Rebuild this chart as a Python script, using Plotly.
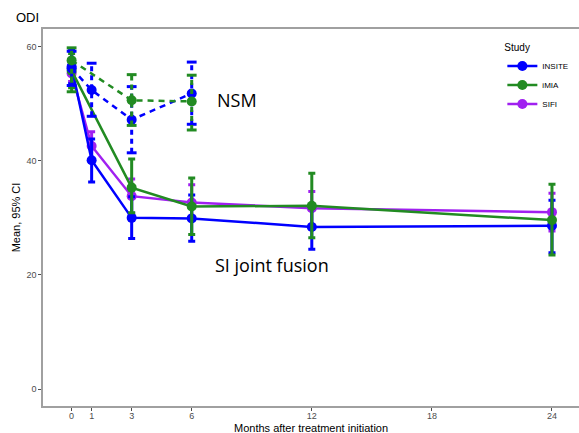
import plotly.graph_objects as go

# Study palette
COLORS = {"INSITE": "#0000FF", "iMIA": "#228B22", "SIFI": "#A020F0"}
LEGEND_RANK = {"INSITE": 1, "iMIA": 2, "SIFI": 3}

# SI joint fusion arms (solid lines): month, mean, lower / upper 95% CI
insite_sijf_month = [0, 1, 3, 6, 12, 24]
insite_sijf_mean = [56.5, 40.1, 30.0, 29.9, 28.4, 28.6]
insite_sijf_lo = [53.5, 36.3, 26.4, 25.9, 24.5, 23.9]
insite_sijf_hi = [59.6, 43.8, 33.7, 34.0, 32.3, 33.1]

imia_sijf_month = [0, 3, 6, 12, 24]
imia_sijf_mean = [55.8, 35.3, 32.0, 32.1, 29.6]
imia_sijf_lo = [52.8, 30.9, 27.1, 26.5, 23.5]
imia_sijf_hi = [58.8, 40.3, 37.0, 37.8, 35.9]

sifi_sijf_month = [0, 1, 3, 6, 12, 24]
sifi_sijf_mean = [55.3, 42.6, 33.8, 32.7, 31.7, 31.0]
sifi_sijf_lo = [53.9, 40.2, 30.8, 29.6, 28.8, 27.7]
sifi_sijf_hi = [56.8, 45.1, 36.8, 35.8, 34.6, 34.3]

# Non-surgical management arms (dashed lines)
insite_nsm_month = [0, 1, 3, 6]
insite_nsm_mean = [56.2, 52.4, 47.2, 51.8]
insite_nsm_lo = [53.2, 47.8, 41.4, 46.4]
insite_nsm_hi = [59.2, 57.1, 53.0, 57.3]

imia_nsm_month = [0, 3, 6]
imia_nsm_mean = [57.6, 50.6, 50.4]
imia_nsm_lo = [52.1, 46.2, 45.4]
imia_nsm_hi = [59.8, 55.1, 55.0]

x_ticks = [0, 1, 3, 6, 12, 18, 24]
y_ticks = [0, 20, 40, 60]

fig = go.Figure()


def add_sijf(name, month, mean, lo, hi):
    c = COLORS[name]
    fig.add_trace(go.Scatter(
        x=month, y=mean, mode="lines+markers", name=name,
        line=dict(color=c, width=2.5),
        marker=dict(color=c, size=10),
        error_y=dict(type="data", symmetric=False,
                     array=[h - m for h, m in zip(hi, mean)],
                     arrayminus=[m - l for m, l in zip(mean, lo)],
                     color=c, thickness=3, width=3.5),
        showlegend=True, legendgroup=name, legendrank=LEGEND_RANK[name],
    ))


def add_nsm(name, month, mean, lo, hi):
    c = COLORS[name]
    # dashed CI whiskers
    xs, ys = [], []
    for m, l, h in zip(month, lo, hi):
        xs += [m, m, None]
        ys += [l, h, None]
    fig.add_trace(go.Scatter(
        x=xs, y=ys, mode="lines", line=dict(color=c, width=3, dash="5px,4px"),
        hoverinfo="skip", showlegend=False, legendgroup=name,
    ))
    # whisker caps
    fig.add_trace(go.Scatter(
        x=month + month, y=lo + hi, mode="markers",
        marker=dict(symbol="line-ew", size=7, line=dict(color=c, width=3)),
        hoverinfo="skip", showlegend=False, legendgroup=name,
    ))
    fig.add_trace(go.Scatter(
        x=month, y=mean, mode="lines+markers", name=name + " NSM",
        line=dict(color=c, width=2.5, dash="6px,5px"),
        marker=dict(color=c, size=10),
        showlegend=False, legendgroup=name,
    ))


add_sijf("SIFI", sifi_sijf_month, sifi_sijf_mean, sifi_sijf_lo, sifi_sijf_hi)
add_sijf("INSITE", insite_sijf_month, insite_sijf_mean, insite_sijf_lo, insite_sijf_hi)
add_sijf("iMIA", imia_sijf_month, imia_sijf_mean, imia_sijf_lo, imia_sijf_hi)
add_nsm("INSITE", insite_nsm_month, insite_nsm_mean, insite_nsm_lo, insite_nsm_hi)
add_nsm("iMIA", imia_nsm_month, imia_nsm_mean, imia_nsm_lo, imia_nsm_hi)

axis_font = dict(family="Liberation Sans, Arial, sans-serif", size=9, color="#4D4D4D")

fig.update_layout(
    width=579, height=433,
    margin=dict(l=43, r=0, t=29, b=27, autoexpand=False),
    paper_bgcolor="white", plot_bgcolor="white",
    font=dict(family="Liberation Sans, Arial, sans-serif", color="black"),
    legend=dict(
        title=dict(text="Study", font=dict(size=10, color="black")),
        x=0.857, y=0.975, xanchor="left", yanchor="top",
        font=dict(size=8, color="black"),
        bgcolor="rgba(255,255,255,0)", itemwidth=30, tracegroupgap=0,
    ),
    xaxis=dict(
        range=[-1.43, 25.35], tickvals=x_ticks, ticktext=[str(t) for t in x_ticks],
        showgrid=False, zeroline=False,
        showline=True, linecolor="#A0A0A0", linewidth=1.5, mirror=True,
        ticks="outside", ticklen=3, tickcolor="#4D4D4D", tickwidth=1,
        tickfont=axis_font, ticklabelstandoff=-3,
    ),
    yaxis=dict(
        range=[-2.98, 63.1], tickvals=y_ticks,
        showgrid=False, zeroline=False,
        showline=True, linecolor="#A0A0A0", linewidth=1.5,
        ticks="outside", ticklen=3, tickcolor="#4D4D4D", tickwidth=1,
        tickfont=axis_font,
        title=dict(text="Mean, 95% CI", font=dict(size=11, color="black"), standoff=4),
    ),
)

# Panel title (placed in pixel terms relative to the 536x377 plotting area)
fig.add_annotation(x=-29 / 536, y=(406 - 17) / 377, xref="paper", yref="paper",
                   text="ODI", showarrow=False,
                   xanchor="left", yanchor="middle", font=dict(size=13, color="black"))
# x-axis title
fig.add_annotation(x=0.5, y=(406 - 428) / 377, xref="paper", yref="paper",
                   text="Months after treatment initiation", showarrow=False,
                   xanchor="center", yanchor="middle", font=dict(size=11, color="black"))

# Arm labels
fig.add_annotation(x=7.15, y=50.6, xref="x", yref="y", text="NSM", showarrow=False,
                   xanchor="left", yanchor="middle",
                   font=dict(family="Open Sans, sans-serif", size=18, color="black"))
fig.add_annotation(x=7.05, y=21.8, xref="x", yref="y", text="SI joint fusion", showarrow=False,
                   xanchor="left", yanchor="middle",
                   font=dict(family="Open Sans, sans-serif", size=18, color="black"))

fig.write_html("out.html")
